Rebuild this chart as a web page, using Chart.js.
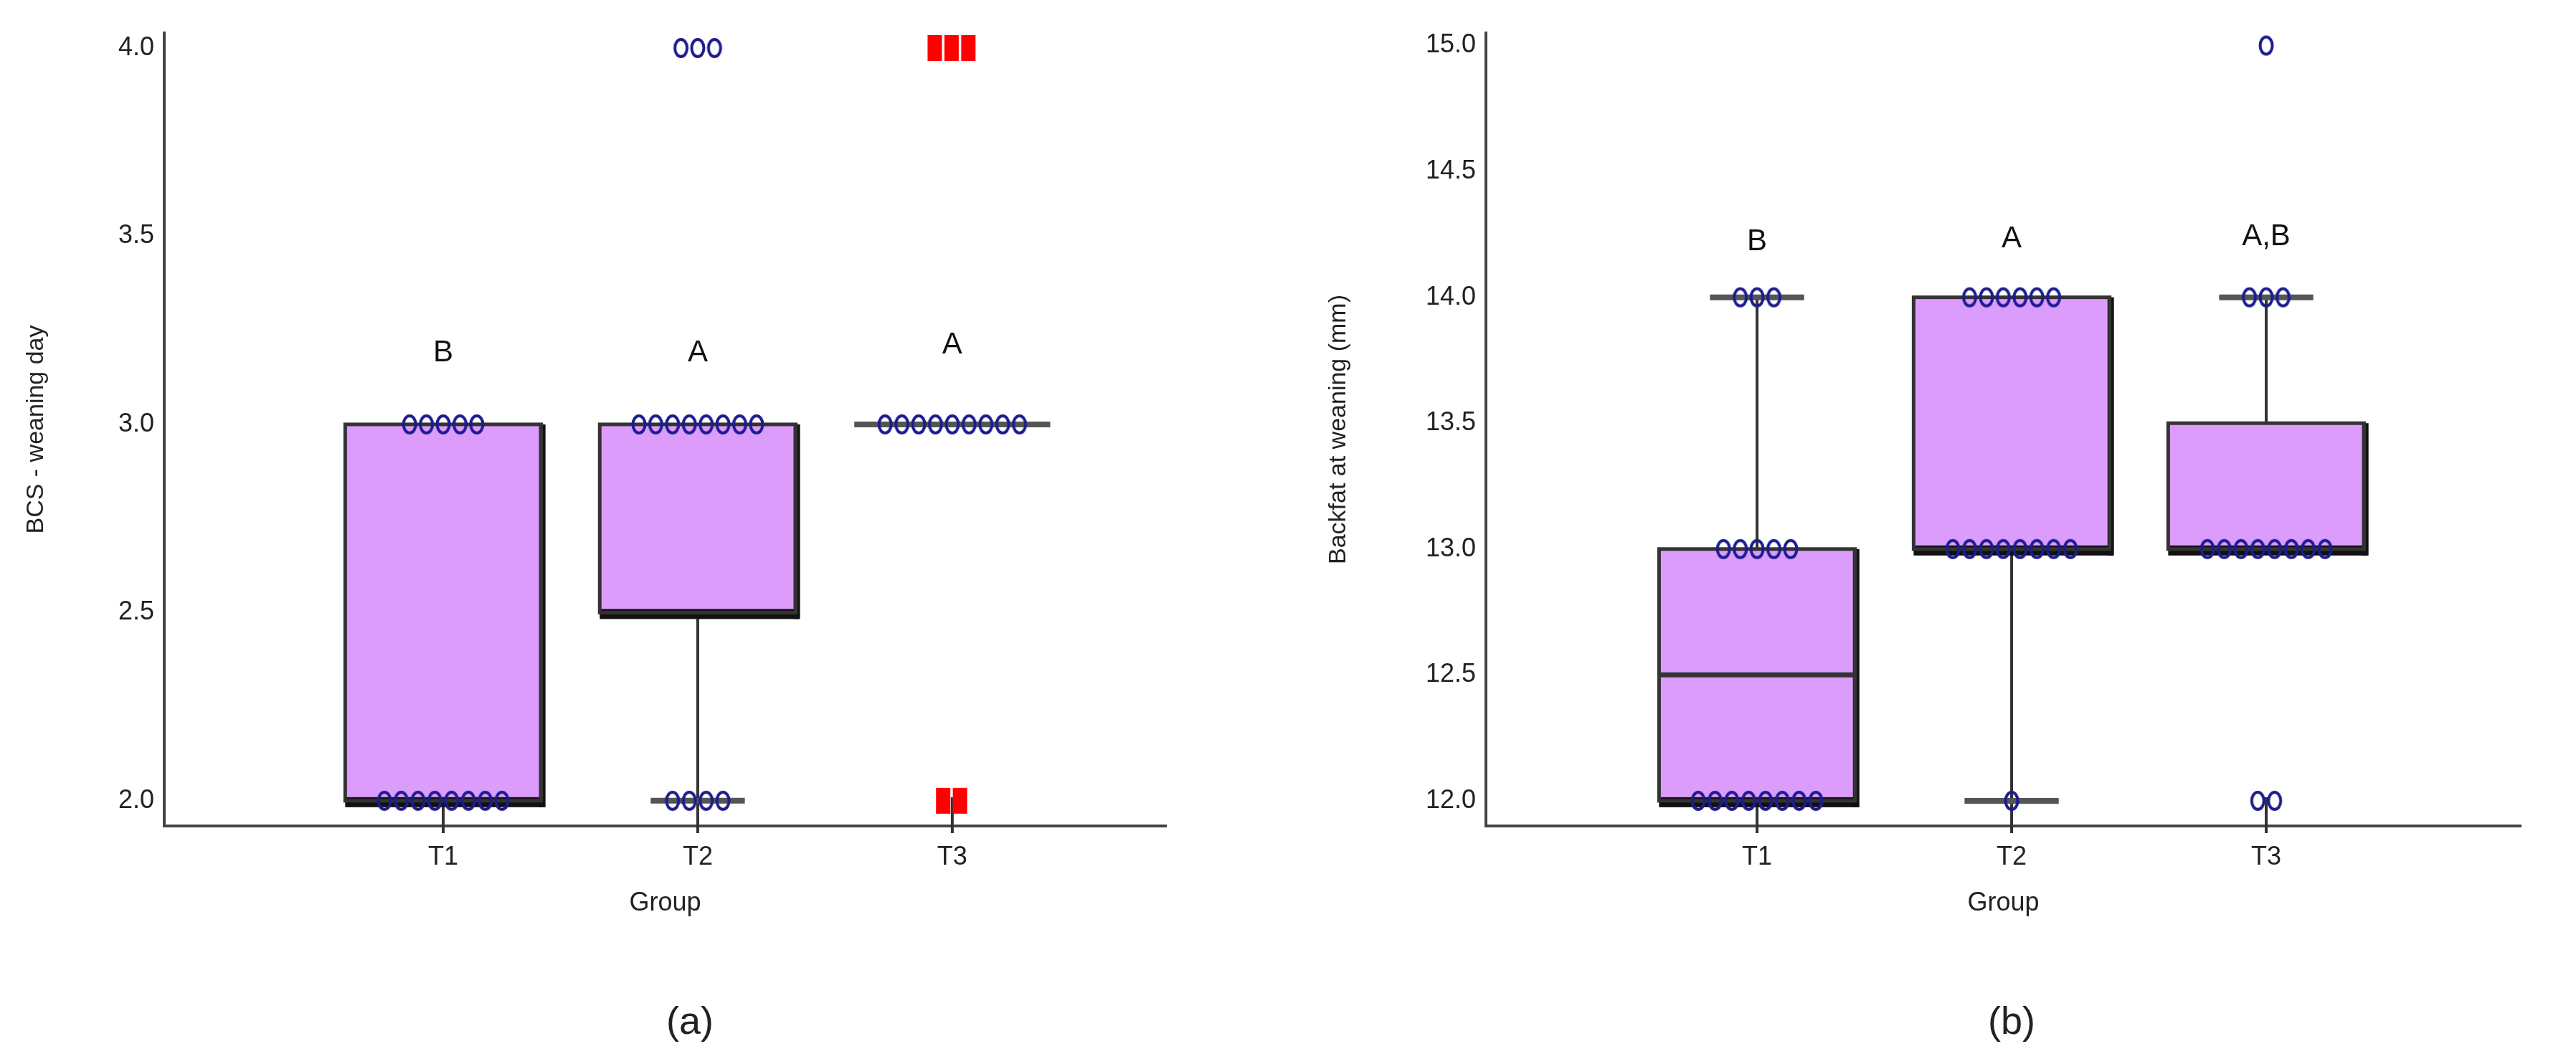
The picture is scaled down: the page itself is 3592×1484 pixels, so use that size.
<!DOCTYPE html>
<html><head><meta charset="utf-8">
<script src="https://cdn.jsdelivr.net/npm/chart.js@4"></script>
<style>
body{margin:0;background:#fff;width:3592px;height:1484px;position:relative;overflow:hidden;font-family:"Liberation Sans",sans-serif}
.c{position:absolute;top:0;height:1484px}
.cap{position:absolute;top:1392px;font-size:54px;color:#222;transform:translateX(-50%)}
</style></head><body>
<div class="c" style="left:0;width:1700px"><canvas id="ca"></canvas></div>
<div class="c" style="left:1800px;width:1792px"><canvas id="cb"></canvas></div>
<div class="cap" style="left:962px">(a)</div>
<div class="cap" style="left:2805px">(b)</div>
<script>
const categories = ["T1","T2","T3"];
// Panel (a): BCS - weaning day
const aTicks = [2.0,2.5,3.0,3.5,4.0];
const aQ1 = [2.0,2.5,3.0], aMed = [2.0,3.0,3.0], aQ3 = [3.0,3.0,3.0];
const aWhLo = [null,2.0,null], aWhHi = [null,null,null];
const aLetters = ["B","A","A"], aLetterY = [3.19,3.19,3.21];
const aValues = [ [3,3,3,3,3,2,2,2,2,2,2,2,2], [3,3,3,3,3,3,3,3,2,2,2,2], [3,3,3,3,3,3,3,3,3] ];
const aOutliers = [ [], [4,4,4], [] ];
const aFarOutliers = [ [], [], [4,4,4,2,2] ];
// Panel (b): Backfat at weaning (mm)
const bTicks = [12.0,12.5,13.0,13.5,14.0,14.5,15.0];
const bQ1 = [12.0,13.0,13.0], bMed = [12.5,13.0,13.0], bQ3 = [13.0,14.0,13.5];
const bWhLo = [null,12.0,null], bWhHi = [14.0,null,14.0];
const bLetters = ["B","A","A,B"], bLetterY = [14.22,14.23,14.24];
const bValues = [ [14,14,14,13,13,13,13,13,12,12,12,12,12,12,12,12], [14,14,14,14,14,14,13,13,13,13,13,13,13,13,12], [14,14,14,13,13,13,13,13,13,13,13] ];
const bOutliers = [ [], [], [15,12,12] ];
const bFarOutliers = [ [], [], [] ];

const SP = 0.066, BOXW = 0.77, CAPW = 0.37;
function ellipseImg(){const c=document.createElement('canvas');c.width=24;c.height=30;const g=c.getContext('2d');g.strokeStyle='#1c1c90';g.lineWidth=4;g.beginPath();g.ellipse(12,15,8.5,12,0,0,Math.PI*2);g.stroke();return c;}
function rectImg(){const c=document.createElement('canvas');c.width=24;c.height=40;const g=c.getContext('2d');g.fillStyle='#ff0000';g.fillRect(1,2,20,36);return c;}
const EL = ellipseImg(), RC = rectImg();
function spread(groups){const pts=[];groups.forEach((vals,ci)=>{const byV={};vals.forEach(v=>{(byV[v]=byV[v]||[]).push(v)});Object.keys(byV).forEach(k=>{const n=byV[k].length;for(let i=0;i<n;i++)pts.push({x:ci+1+(i-(n-1)/2)*SP,y:+k});});});return pts;}

function boxPlugin(q1,med,q3,lo,hi,letters,ly){return {id:'box',beforeDatasetsDraw(ch){
  const g=ch.ctx,X=ch.scales.x,Y=ch.scales.y;g.save();
  categories.forEach((c,i)=>{const cx=X.getPixelForValue(i+1),l=X.getPixelForValue(i+1-BOXW/2),r=X.getPixelForValue(i+1+BOXW/2);
    const cl=X.getPixelForValue(i+1-CAPW/2),cr=X.getPixelForValue(i+1+CAPW/2);
    const yb=Y.getPixelForValue(q1[i]),yt=Y.getPixelForValue(q3[i]);
    g.strokeStyle='#333';g.lineWidth=4;g.beginPath();g.moveTo(cx,Y.bottom+10);g.lineTo(cx,Y.bottom-40);g.stroke();
    g.lineWidth=4;
    if(lo[i]!=null){const y=Y.getPixelForValue(lo[i]);g.beginPath();g.moveTo(cx,yb);g.lineTo(cx,y);g.stroke();g.lineWidth=8;g.strokeStyle='#555';g.beginPath();g.moveTo(cl,y);g.lineTo(cr,y);g.stroke();g.lineWidth=4;g.strokeStyle='#333';}
    if(hi[i]!=null){const y=Y.getPixelForValue(hi[i]);g.beginPath();g.moveTo(cx,yt);g.lineTo(cx,y);g.stroke();g.lineWidth=8;g.strokeStyle='#555';g.beginPath();g.moveTo(cl,y);g.lineTo(cr,y);g.stroke();g.lineWidth=4;g.strokeStyle='#333';}
    if(yb-yt>1){g.fillStyle='#dc9cfc';g.fillRect(l,yt,r-l,yb-yt);
      g.fillStyle='#111';g.fillRect(l,yb-5,r-l+5,14);g.fillRect(r-3,yt,9,yb-yt+9);
      g.strokeStyle='#333';g.lineWidth=5;g.strokeRect(l,yt,r-l,yb-yt);
      if(med[i]>q1[i]&&med[i]<q3[i]){const ym=Y.getPixelForValue(med[i]);g.strokeStyle='#333';g.lineWidth=7;g.beginPath();g.moveTo(l,ym);g.lineTo(r,ym);g.stroke();}
    } else {g.strokeStyle='#555';g.lineWidth=8;g.beginPath();g.moveTo(l,yt);g.lineTo(r,yt);g.stroke();}
    g.fillStyle='#111';g.font='42px "Liberation Sans"';g.textAlign='center';g.textBaseline='middle';g.fillText(letters[i],cx,Y.getPixelForValue(ly[i]));
  });g.restore();}};}

function make(id,ticks,xmin,xmax,ymin,ymax,title,vals,outs,far,q1,med,q3,lo,hi,letters,ly,pad,yw,tp){
  new Chart(document.getElementById(id),{type:'scatter',
    data:{datasets:[
      {data:spread(vals),pointStyle:EL,pointRadius:12},
      {data:spread(outs),pointStyle:EL,pointRadius:12},
      {data:spread(far),pointStyle:RC,pointRadius:12}]},
    options:{responsive:true,maintainAspectRatio:false,animation:false,
      layout:{padding:pad},
      plugins:{legend:{display:false},tooltip:{enabled:false}},
      scales:{
        x:{type:'linear',min:xmin,max:xmax,grid:{display:false,drawTicks:false},border:{color:'#444',width:4},
          afterBuildTicks:s=>{s.ticks=categories.map((c,i)=>({value:i+1}));},
          ticks:{padding:22,color:'#222',font:{size:36,family:'Liberation Sans'},callback:v=>categories[v-1]},
          title:{display:true,text:'Group',color:'#222',font:{size:36,family:'Liberation Sans'},padding:{top:0,bottom:102}},
          afterFit:s=>{s.height=232;}},
        y:{min:ymin,max:ymax,grid:{display:false,drawTicks:false},border:{color:'#444',width:4},
          afterBuildTicks:s=>{s.ticks=ticks.map(v=>({value:v}));},
          ticks:{padding:14,color:'#222',font:{size:36,family:'Liberation Sans'},callback:v=>v.toFixed(1)},
          title:{display:true,text:title,color:'#222',font:{size:34,family:'Liberation Sans'},padding:{top:tp,bottom:0}},
          afterFit:s=>{s.width=yw;}}
      }},
    plugins:[boxPlugin(q1,med,q3,lo,hi,letters,ly)]});
}
make('ca',aTicks,-0.096,3.84,1.933,4.04,'BCS - weaning day',aValues,aOutliers,aFarOutliers,aQ1,aMed,aQ3,aWhLo,aWhHi,aLetters,aLetterY,{left:0,top:46,right:74,bottom:100},229,30);
make('cb',bTicks,-0.065,4.0,11.90,15.05,'Backfat at weaning (mm)',bValues,bOutliers,bFarOutliers,bQ1,bMed,bQ3,bWhLo,bWhHi,bLetters,bLetterY,{left:0,top:46,right:77,bottom:100},272,46);
</script></body></html>
